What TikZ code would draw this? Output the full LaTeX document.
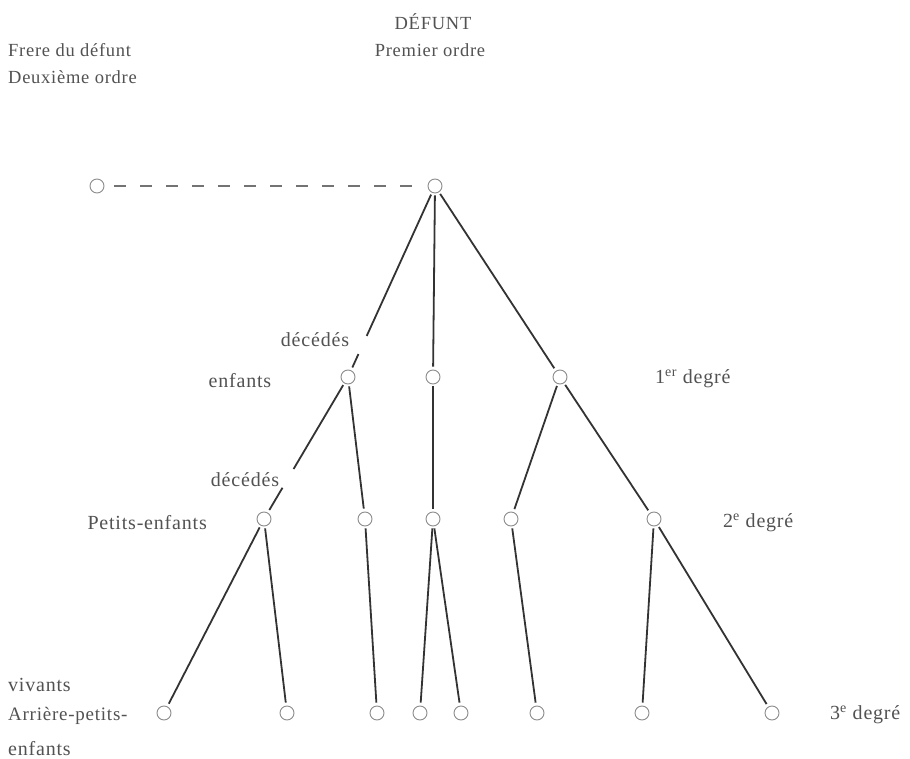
\documentclass[tikz,border=0pt]{standalone}
\usepackage{fontspec}
\setmainfont{Liberation Serif}[LetterSpace=4]
\usetikzlibrary{calc}
\begin{document}
\begin{tikzpicture}[x=1pt,y=-1pt,
  pt/.style={circle,draw=black!45,line width=0.9pt,minimum size=14pt,inner sep=0pt},
  edge/.style={draw=black!80,line width=1.8pt,shorten <=2pt,shorten >=3pt},
  lbl/.style={text=black!68,font=\fontsize{20}{24}\selectfont,inner sep=0pt},
  top/.style={text=black!68,font=\fontsize{18.5}{22}\selectfont,inner sep=0pt},
]
\useasboundingbox[fill=white] (0,0) rectangle (910,759);

% headings
\node[top] (tdef) at (433,22) {DÉFUNT};
\node[top] (tpre) at (430,50) {Premier ordre};
\node[top,anchor=west] (tfre) at (8,50) {Frere du défunt};
\node[top,anchor=west] (tdeu) at (8,77) {Deuxième ordre};

% nodes
\node[pt] (f) at (97,186) {};
\node[pt] (d) at (435,186) {};

\node[pt] (e1) at (348,377) {};
\node[pt] (e2) at (433,377) {};
\node[pt] (e3) at (560,377) {};

\node[pt] (p1) at (264,519) {};
\node[pt] (p2) at (365,519) {};
\node[pt] (p3) at (433,519) {};
\node[pt] (p4) at (511,519) {};
\node[pt] (p5) at (654,519) {};

\node[pt] (a1) at (164,713) {};
\node[pt] (a2) at (287,713) {};
\node[pt] (a3) at (377,713) {};
\node[pt] (a4) at (420,713) {};
\node[pt] (a5) at (461,713) {};
\node[pt] (a6) at (537,713) {};
\node[pt] (a7) at (642,713) {};
\node[pt] (a8) at (772,713) {};

% labels
\node[lbl] (dec1) at (315,340) {décédés};
\node[lbl] (enf) at (240,381) {enfants};
\node[lbl,anchor=west] (deg1) at (655,379) {1\textsuperscript{er} degré};
\node[lbl] (dec2) at (245,480) {décédés};
\node[lbl,anchor=east] (pet) at (207,523) {Petits-enfants};
\node[lbl,anchor=west] (deg2) at (723,523) {2\textsuperscript{e} degré};
\node[lbl,anchor=west] (viv) at (8,685) {vivants};
\node[lbl,anchor=west,font=\fontsize{19}{23}\selectfont] (arr) at (8,716) {Arrière-petits-};
\node[lbl,anchor=west] (enf3) at (8,749) {enfants};
\node[lbl,anchor=west] (deg3) at (830,715) {3\textsuperscript{e} degré};

% dashed link
\draw[draw=black!55,line width=1.3pt,dash pattern=on 12pt off 14pt,shorten <=10pt,shorten >=4pt] (f) -- (d);

% edges from defunt
\draw[edge,shorten >=0pt] (d) -- ($(d)!0.785!(e1)$);
\draw[edge,shorten <=0pt] ($(d)!0.88!(e1)$) -- (e1);
\draw[edge] (d) -- (e2);
\draw[edge] (d) -- (e3);

% level 1 -> 2
\draw[edge,shorten >=0pt] (e1) -- ($(e1)!0.648!(p1)$);
\draw[edge,shorten <=0pt] ($(e1)!0.78!(p1)$) -- (p1);
\draw[edge] (e1) -- (p2);
\draw[edge] (e2) -- (p3);
\draw[edge] (e3) -- (p4);
\draw[edge] (e3) -- (p5);

% level 2 -> 3
\draw[edge] (p1) -- (a1);
\draw[edge] (p1) -- (a2);
\draw[edge] (p2) -- (a3);
\draw[edge] (p3) -- (a4);
\draw[edge] (p3) -- (a5);
\draw[edge] (p4) -- (a6);
\draw[edge] (p5) -- (a7);
\draw[edge] (p5) -- (a8);
\end{tikzpicture}
\end{document}
